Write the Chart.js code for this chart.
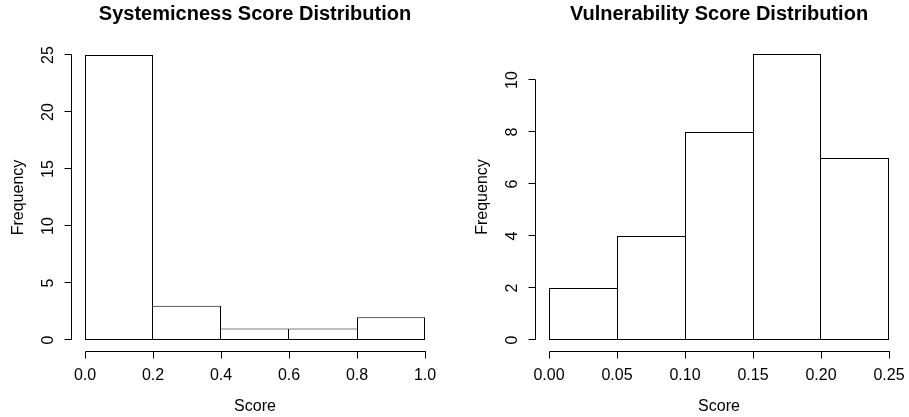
<!DOCTYPE html>
<html>
<head>
<meta charset="utf-8">
<title>Score Distributions</title>
<script src="https://cdn.jsdelivr.net/npm/chart.js@4/dist/chart.umd.min.js"></script>
<style>
  html, body { margin: 0; padding: 0; background: #fff; }
  #wrap { position: relative; width: 909px; height: 417px; }
  canvas { position: absolute; top: 0; }
</style>
</head>
<body>
<div id="wrap">
  <canvas id="sysChart" width="454" height="417" style="left:0"></canvas>
  <canvas id="vulChart" width="455" height="417" style="left:454px"></canvas>
</div>
<script>
// histogram bins and counts
const sysBreaks = [0, 0.2, 0.4, 0.6, 0.8, 1.0];
const sysCounts = [25, 3, 1, 1, 2];
const sysXTicks = [0, 0.2, 0.4, 0.6, 0.8, 1.0];
const sysXLabels = ["0.0", "0.2", "0.4", "0.6", "0.8", "1.0"];
const sysYTicks = [0, 5, 10, 15, 20, 25];

const vulBreaks = [0, 0.05, 0.1, 0.15, 0.2, 0.25];
const vulCounts = [2, 4, 8, 11, 7];
const vulXTicks = [0, 0.05, 0.1, 0.15, 0.2, 0.25];
const vulXLabels = ["0.00", "0.05", "0.10", "0.15", "0.20", "0.25"];
const vulYTicks = [0, 2, 4, 6, 8, 10];

const FONT = "'Liberation Sans', Arial, Helvetica, sans-serif";

// base-graphics style axes: detached lines, outward ticks, vertical y labels
const rAxes = {
  id: "rAxes",
  afterDraw(chart, args, opts) {
    const { ctx, chartArea: a, scales: { x, y } } = chart;
    const crisp = (v) => Math.floor(v) + 0.5;
    ctx.save();
    ctx.strokeStyle = "#000";
    ctx.fillStyle = "#000";
    ctx.lineWidth = 1;

    // x axis
    const xb = crisp(a.bottom);
    const xs = opts.xTicks.map((v) => x.getPixelForValue(v));
    ctx.beginPath();
    ctx.moveTo(crisp(xs[0]), xb);
    ctx.lineTo(crisp(xs[xs.length - 1]) + 0.5, xb);
    xs.forEach((px) => {
      ctx.moveTo(crisp(px), xb);
      ctx.lineTo(crisp(px), xb + 7);
    });
    ctx.stroke();

    ctx.font = "16px " + FONT;
    ctx.textAlign = "center";
    ctx.textBaseline = "alphabetic";
    xs.forEach((px, i) => ctx.fillText(opts.xLabels[i], px, a.bottom + 28.5));

    // y axis
    const yl = crisp(a.left);
    const ys = opts.yTicks.map((v) => y.getPixelForValue(v));
    ctx.beginPath();
    ctx.moveTo(yl, crisp(ys[0] - 0.5) + 0.5);
    ctx.lineTo(yl, crisp(ys[ys.length - 1] - 0.5));
    ys.forEach((py) => {
      ctx.moveTo(yl, crisp(py - 0.5));
      ctx.lineTo(yl - 7, crisp(py - 0.5));
    });
    ctx.stroke();

    ys.forEach((py, i) => {
      ctx.save();
      ctx.translate(a.left - 18, py);
      ctx.rotate(-Math.PI / 2);
      ctx.fillText(String(opts.yTicks[i]), 0, 0);
      ctx.restore();
    });

    // axis titles
    ctx.fillText(opts.xTitle, (a.left + a.right) / 2, a.bottom + 59.5);
    ctx.save();
    ctx.translate(a.left - 48.4, (a.top + a.bottom) / 2);
    ctx.rotate(-Math.PI / 2);
    ctx.fillText(opts.yTitle, 0, 0);
    ctx.restore();

    // main title
    ctx.font = "bold 20px " + FONT;
    ctx.fillText(opts.title, (a.left + a.right) / 2, 20);
    ctx.restore();
  }
};

function histChart(id, breaks, counts, pad, axes) {
  const span = breaks[breaks.length - 1] - breaks[0];
  const top = Math.max(...counts);
  const points = counts.map((c, i) => ({ x: (breaks[i] + breaks[i + 1]) / 2, y: c }));

  // shared bin edges are drawn once, by the taller neighbour
  const edges = (ctx) => {
    const i = ctx.dataIndex;
    if (i === undefined) return 1;
    return {
      top: 1,
      bottom: 1,
      left: i === 0 || counts[i] > counts[i - 1] ? 1 : 0,
      right: i === counts.length - 1 || counts[i] >= counts[i + 1] ? 1 : 0
    };
  };

  return new Chart(id, {
    type: "bar",
    data: {
      datasets: [{
        data: points,
        backgroundColor: "#fff",
        borderColor: "#000",
        borderWidth: edges,
        borderSkipped: false,
        inflateAmount: 0,
        barPercentage: 1,
        categoryPercentage: 1
      }]
    },
    options: {
      responsive: false,
      devicePixelRatio: 1,
      animation: false,
      events: [],
      layout: { padding: pad },
      scales: {
        x: {
          type: "linear",
          display: false,
          offset: false,
          min: breaks[0] - 0.04 * span,
          max: breaks[breaks.length - 1] + 0.04 * span
        },
        y: {
          type: "linear",
          display: false,
          min: -0.04 * top,
          max: 1.04 * top
        }
      },
      plugins: {
        legend: { display: false },
        tooltip: { enabled: false },
        rAxes: axes
      }
    },
    plugins: [rAxes]
  });
}

histChart("sysChart", sysBreaks, sysCounts,
  { left: 71.4, right: 15.4, top: 43.6, bottom: 65.6 },
  {
    title: "Systemicness Score Distribution",
    xTitle: "Score",
    yTitle: "Frequency",
    xTicks: sysXTicks,
    xLabels: sysXLabels,
    yTicks: sysYTicks
  });

histChart("vulChart", vulBreaks, vulCounts,
  { left: 81.4, right: 6.4, top: 42.56, bottom: 65.56 },
  {
    title: "Vulnerability Score Distribution",
    xTitle: "Score",
    yTitle: "Frequency",
    xTicks: vulXTicks,
    xLabels: vulXLabels,
    yTicks: vulYTicks
  });
</script>
</body>
</html>
